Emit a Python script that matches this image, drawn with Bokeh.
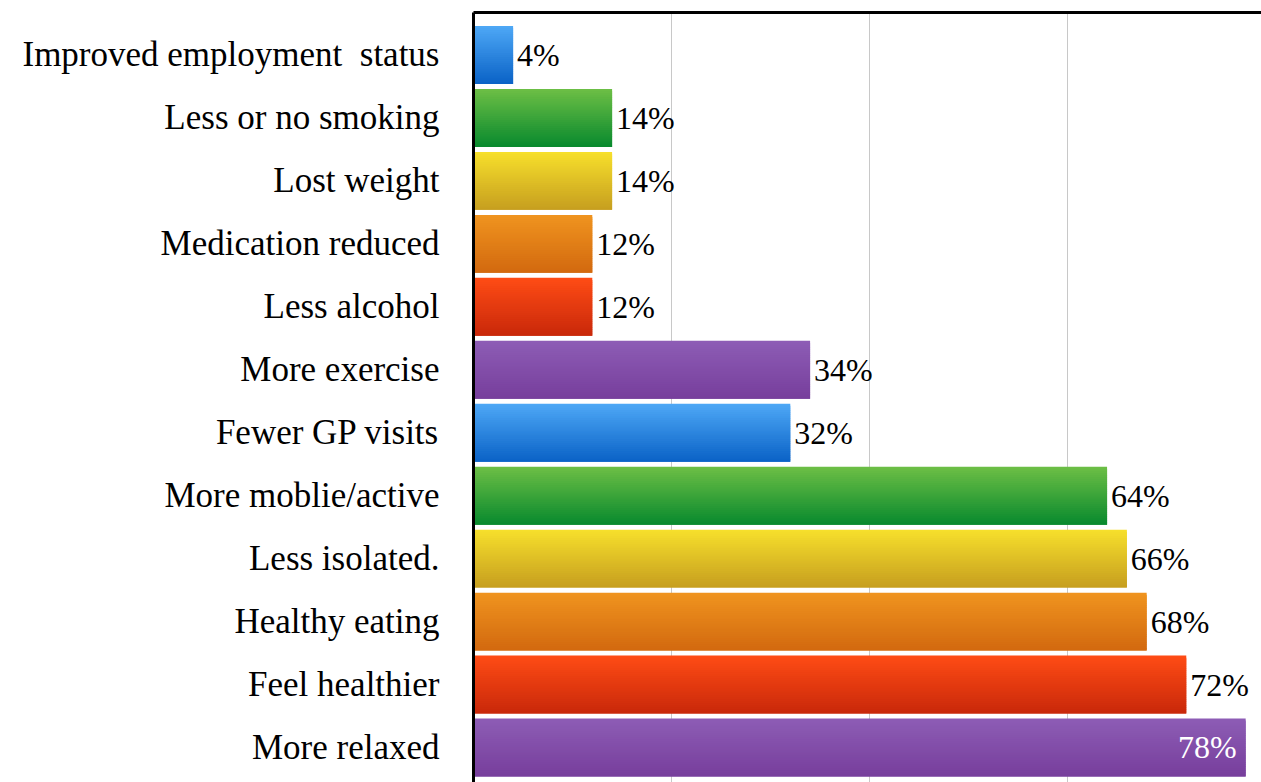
from bokeh.plotting import figure
from bokeh.models import ColumnDataSource, Range1d, FixedTicker, LinearAxis
from bokeh.transform import dodge
from bokeh.core.properties import value
from bokeh.embed import file_html
from bokeh.resources import INLINE

# ---- data (top to bottom as shown) ----
categories = ["Improved employment \u00a0status", "Less or no smoking", "Lost weight",
              "Medication reduced", "Less alcohol", "More exercise", "Fewer GP visits",
              "More moblie/active", "Less isolated.", "Healthy eating",
              "Feel healthier", "More relaxed"]
values = [4, 14, 14, 12, 12, 34, 32, 64, 66, 68, 72, 78]
value_labels = ["4%", "14%", "14%", "12%", "12%", "34%", "32%",
                "64%", "66%", "68%", "72%", "78%"]

# ---- styles ----
FONT = "Liberation Serif"
FS = "35px"
FS_VAL = "32px"
grad_top = ["#4ea8f6", "#6dbf45", "#f7e02c", "#f0941f", "#ff4c15", "#8d5db5"]
grad_bot = ["#0a62c6", "#08892e", "#c69e1f", "#d2690f", "#c8280a", "#773e9c"]
BAR_H = 0.92
N_SLICES = 28

n = len(categories)
ys = [n - 1 - i for i in range(n)]


def mix(c1, c2, t):
    a = [int(c1[k:k + 2], 16) for k in (1, 3, 5)]
    b = [int(c2[k:k + 2], 16) for k in (1, 3, 5)]
    return "#%02x%02x%02x" % tuple(round(a[j] + (b[j] - a[j]) * t) for j in range(3))


p = figure(width=1261, height=782, output_backend="svg", toolbar_location=None,
           x_range=Range1d(0, 79.6), y_range=Range1d(-0.556, 11.675),
           min_border_left=473, min_border_right=0, min_border_top=12,
           min_border_bottom=0)
p.outline_line_color = None
p.background_fill_color = "white"

# gradient bars built from horizontal slices (each slice overlaps the next one)
s = BAR_H / N_SLICES
for k in range(N_SLICES):
    t = (k + 0.5) / N_SLICES
    h = min(2.2 * s, BAR_H - k * s)
    off = BAR_H / 2 - k * s - h / 2
    cols = [mix(grad_top[i % 6], grad_bot[i % 6], t) for i in range(n)]
    src = ColumnDataSource(dict(y=ys, v=values, c=cols))
    p.hbar(y=dodge("y", off, range=p.y_range), left=0, right="v",
           height=h, fill_color="c", line_color=None, source=src)

# value labels
vmax = max(values)
out_idx = [i for i in range(n) if values[i] != vmax]
in_idx = [i for i in range(n) if values[i] == vmax]
src_out = ColumnDataSource(dict(y=[ys[i] for i in out_idx], v=[values[i] for i in out_idx],
                                t=[value_labels[i] for i in out_idx]))
src_in = ColumnDataSource(dict(y=[ys[i] for i in in_idx], v=[values[i] for i in in_idx],
                               t=[value_labels[i] for i in in_idx]))
p.text(x="v", y="y", text="t", source=src_out, x_offset=4,
       text_baseline="middle", text_align="left", text_font=value(FONT),
       text_font_size=FS_VAL, text_color="black")
p.text(x="v", y="y", text="t", source=src_in, x_offset=-9,
       text_baseline="middle", text_align="right", text_font=value(FONT),
       text_font_size=FS_VAL, text_color="white")

# grid
p.ygrid.visible = False
p.xgrid.ticker = FixedTicker(ticks=[20, 40, 60])
p.xgrid.grid_line_color = "#c8c8c8"
p.xgrid.grid_line_width = 1
p.xaxis.visible = False

# y axis with category labels
p.yaxis.ticker = FixedTicker(ticks=ys)
p.yaxis.major_label_overrides = {ys[i]: categories[i] for i in range(n)}
p.yaxis.major_tick_out = 0
p.yaxis.major_tick_in = 0
p.yaxis.minor_tick_out = 0
p.yaxis.minor_tick_in = 0
p.yaxis.axis_line_width = 3
p.yaxis.axis_line_color = "black"
p.yaxis.major_label_standoff = 34
p.yaxis.major_label_text_font = FONT
p.yaxis.major_label_text_font_size = FS
p.yaxis.major_label_text_color = "black"

# top border line
top = LinearAxis(major_tick_out=0, major_tick_in=0, minor_tick_out=0, minor_tick_in=0,
                 major_label_text_font_size="0px", axis_line_width=3,
                 axis_line_color="black", major_label_standoff=0)
top.ticker = FixedTicker(ticks=[])
p.add_layout(top, "above")

open("out.html", "w").write(file_html(p, INLINE))
